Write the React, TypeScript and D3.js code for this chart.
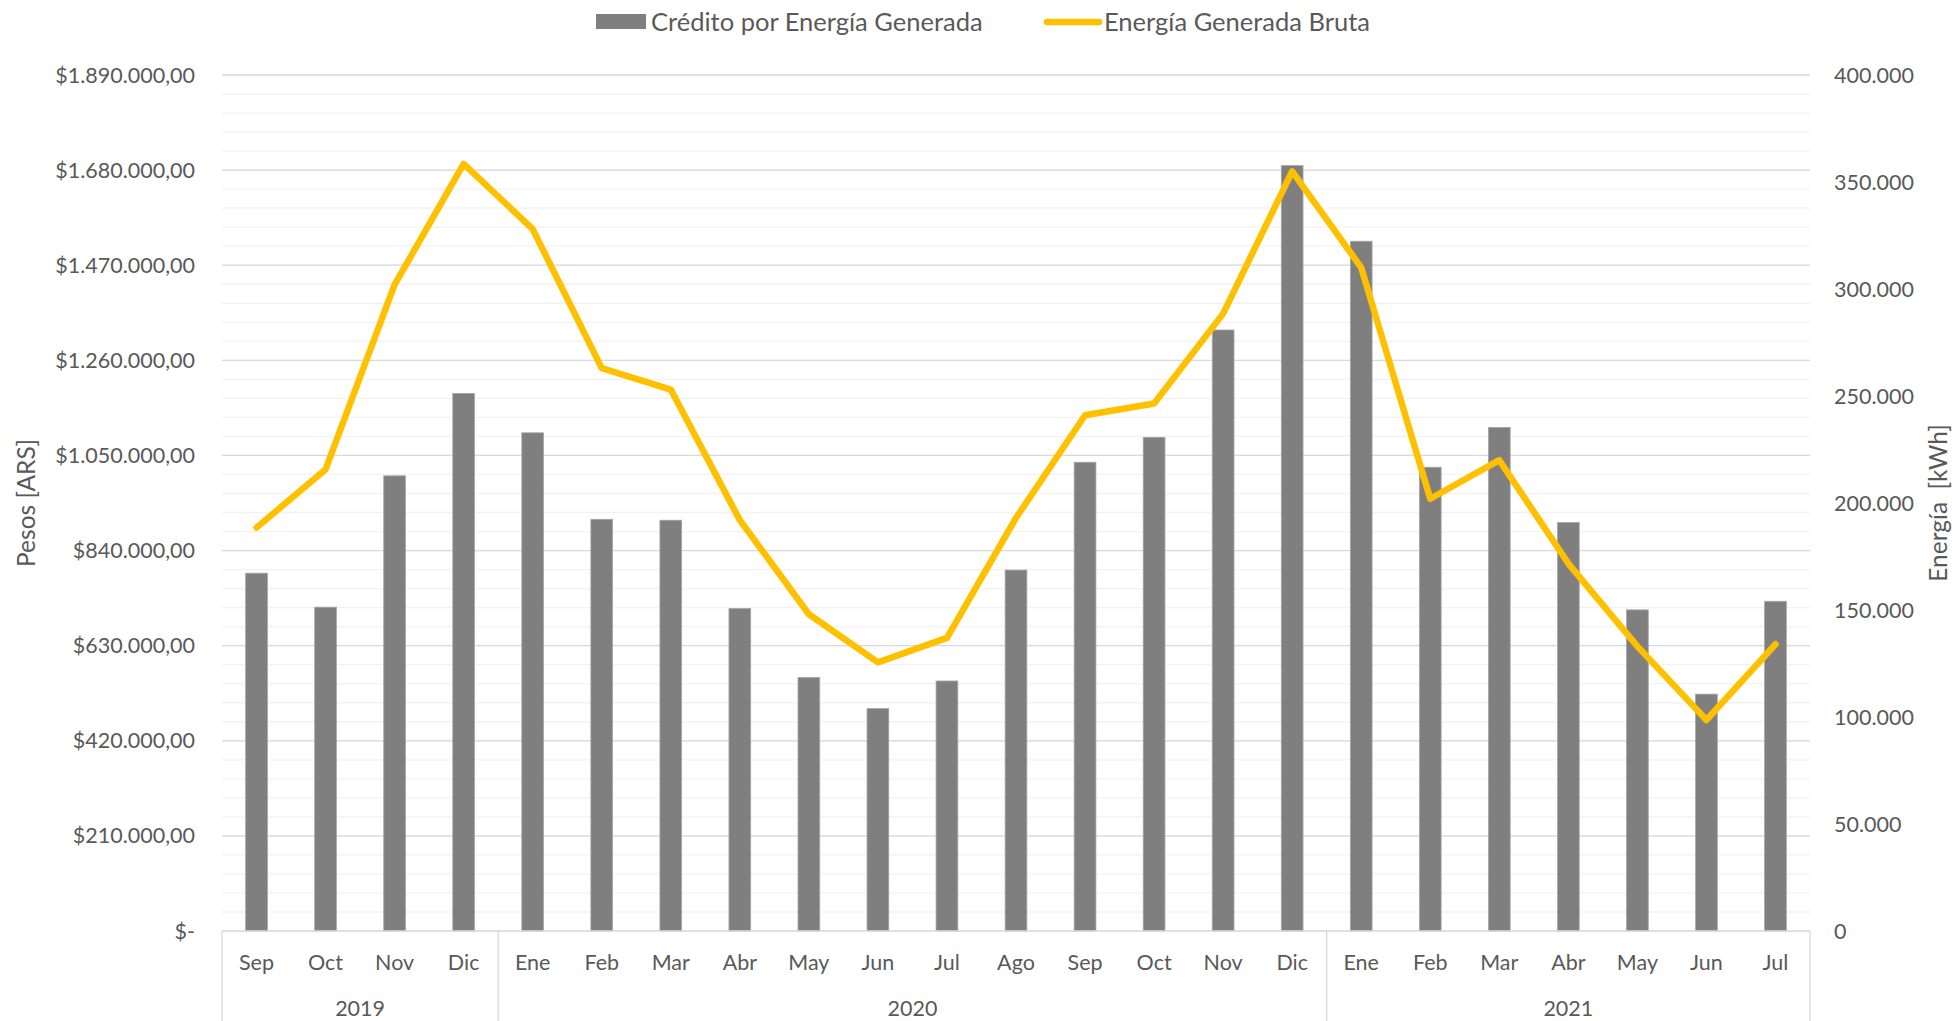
import React from "react";
import * as d3 from "d3";

// Monthly credit (ARS) vs gross generated energy (kWh), Sep 2019 – Jul 2021
const months = [
  "Sep", "Oct", "Nov", "Dic",
  "Ene", "Feb", "Mar", "Abr", "May", "Jun", "Jul", "Ago", "Sep", "Oct", "Nov", "Dic",
  "Ene", "Feb", "Mar", "Abr", "May", "Jun", "Jul",
];
const years = ["2019", "2020", "2021"];
const yearSpans = [4, 12, 7];

const credito = [
  790000, 715000, 1005000, 1187000,
  1100000, 909000, 907000, 712000, 560000, 491000, 552000, 797000, 1035000, 1090000, 1327000, 1690000,
  1523000, 1024000, 1112000, 902000, 709000, 523000, 728000,
];
const energia = [
  188500, 215700, 302000, 358500,
  328000, 263000, 253000, 192000, 148000, 125500, 137000, 193000, 241000, 246500, 288500, 355000,
  310000, 202000, 220000, 171700, 133000, 98600, 134000,
];

const leftTicks = [0, 210000, 420000, 630000, 840000, 1050000, 1260000, 1470000, 1680000, 1890000];
const rightTicks = [0, 50000, 100000, 150000, 200000, 250000, 300000, 350000, 400000];

const W = 1959;
const H = 1021;
const M = { left: 222, right: 1810, top: 75, bottom: 931 };

const BAR = "#7f7f7f";
const LINE = "#ffc000";
const TEXT = "#595959";
const FONT = "Lato, 'Open Sans', sans-serif";
const TICK_FS = 21.5;

const fmtPesos = (v: number) => {
  if (v === 0) return "$-";
  const s = d3.format(",")(v).replace(/,/g, ".");
  return `$${s},00`;
};
const fmtKwh = (v: number) => d3.format(",")(v).replace(/,/g, ".");

export default function App() {
  const x = d3
    .scaleBand<number>()
    .domain(months.map((_, i) => i))
    .range([M.left, M.right])
    .paddingInner(0.685)
    .paddingOuter(0.3425);
  const step = x.step();
  const yL = d3.scaleLinear().domain([0, 1890000]).range([M.bottom, M.top]);
  const yR = d3.scaleLinear().domain([0, 400000]).range([M.bottom, M.top]);

  const minor = d3.range(0, 1890000 + 1, 42000);

  const line = d3
    .line<number>()
    .x((_, i) => (x(i) ?? 0) + x.bandwidth() / 2)
    .y((v) => yR(v));

  // group boundaries for the two-level category axis
  const bounds = [0];
  yearSpans.forEach((n) => bounds.push(bounds[bounds.length - 1] + n));

  return (
    <svg
      width={W}
      height={H}
      style={{ position: "absolute", left: 0, top: 0, background: "#fff" }}
      fontFamily={FONT}
    >
      {/* gridlines */}
      {minor.map((t) => (
        <line key={`m${t}`} x1={M.left} x2={M.right} y1={yL(t)} y2={yL(t)} stroke="#f2f2f2" strokeWidth={1.3} />
      ))}
      {leftTicks.slice(1).map((t) => (
        <line key={`g${t}`} x1={M.left} x2={M.right} y1={yL(t)} y2={yL(t)} stroke="#d9d9d9" strokeWidth={1.3} />
      ))}

      {/* bars */}
      {credito.map((v, i) => (
        <rect
          key={i}
          x={x(i)}
          y={yL(v)}
          width={x.bandwidth()}
          height={M.bottom - yL(v)}
          fill={BAR}
          stroke="#a6a6a6"
          strokeWidth={0.8}
        />
      ))}

      {/* line */}
      <path
        d={line(energia) ?? ""}
        fill="none"
        stroke={LINE}
        strokeWidth={6.5}
        strokeLinejoin="round"
        strokeLinecap="round"
      />

      {/* x axis */}
      <line x1={M.left} x2={M.right} y1={M.bottom} y2={M.bottom} stroke="#d9d9d9" strokeWidth={1.3} />
      {bounds.map((b) => (
        <line
          key={`b${b}`}
          x1={M.left + b * step}
          x2={M.left + b * step}
          y1={M.bottom}
          y2={H}
          stroke="#d9d9d9"
          strokeWidth={1.3}
        />
      ))}
      {months.map((m, i) => (
        <text
          key={`mo${i}`}
          x={(x(i) ?? 0) + x.bandwidth() / 2}
          y={970}
          textAnchor="middle"
          fontSize={TICK_FS}
          fill={TEXT}
        >
          {m}
        </text>
      ))}
      {years.map((yr, i) => (
        <text
          key={yr}
          x={M.left + ((bounds[i] + bounds[i + 1]) / 2) * step}
          y={1016}
          textAnchor="middle"
          fontSize={TICK_FS}
          fill={TEXT}
        >
          {yr}
        </text>
      ))}

      {/* left axis */}
      {leftTicks.map((t) => (
        <text key={`l${t}`} x={195} y={yL(t)} dy="0.35em" textAnchor="end" fontSize={TICK_FS} fill={TEXT}>
          {fmtPesos(t)}
        </text>
      ))}
      <text
        transform={`translate(26,${(M.top + M.bottom) / 2}) rotate(-90)`}
        textAnchor="middle"
        dy="0.35em"
        fontSize={24.5}
        fill={TEXT}
      >
        Pesos [ARS]
      </text>

      {/* right axis */}
      {rightTicks.map((t) => (
        <text key={`r${t}`} x={1834} y={yR(t)} dy="0.35em" textAnchor="start" fontSize={TICK_FS} fill={TEXT}>
          {fmtKwh(t)}
        </text>
      ))}
      <text
        transform={`translate(1938,${(M.top + M.bottom) / 2}) rotate(-90)`}
        textAnchor="middle"
        dy="0.35em"
        fontSize={24.5}
        fill={TEXT}
        style={{ whiteSpace: "pre" }}
      >
        {"Energía  [kWh]"}
      </text>

      {/* legend */}
      <rect x={596} y={14} width={50} height={15} fill={BAR} />
      <text x={651} y={22} dy="0.35em" fontSize={25.5} fill={TEXT}>
        Crédito por Energía Generada
      </text>
      <line x1={1047} x2={1099} y1={22} y2={22} stroke={LINE} strokeWidth={6.5} strokeLinecap="round" />
      <text x={1104} y={22} dy="0.35em" fontSize={25.5} fill={TEXT}>
        Energía Generada Bruta
      </text>
    </svg>
  );
}
